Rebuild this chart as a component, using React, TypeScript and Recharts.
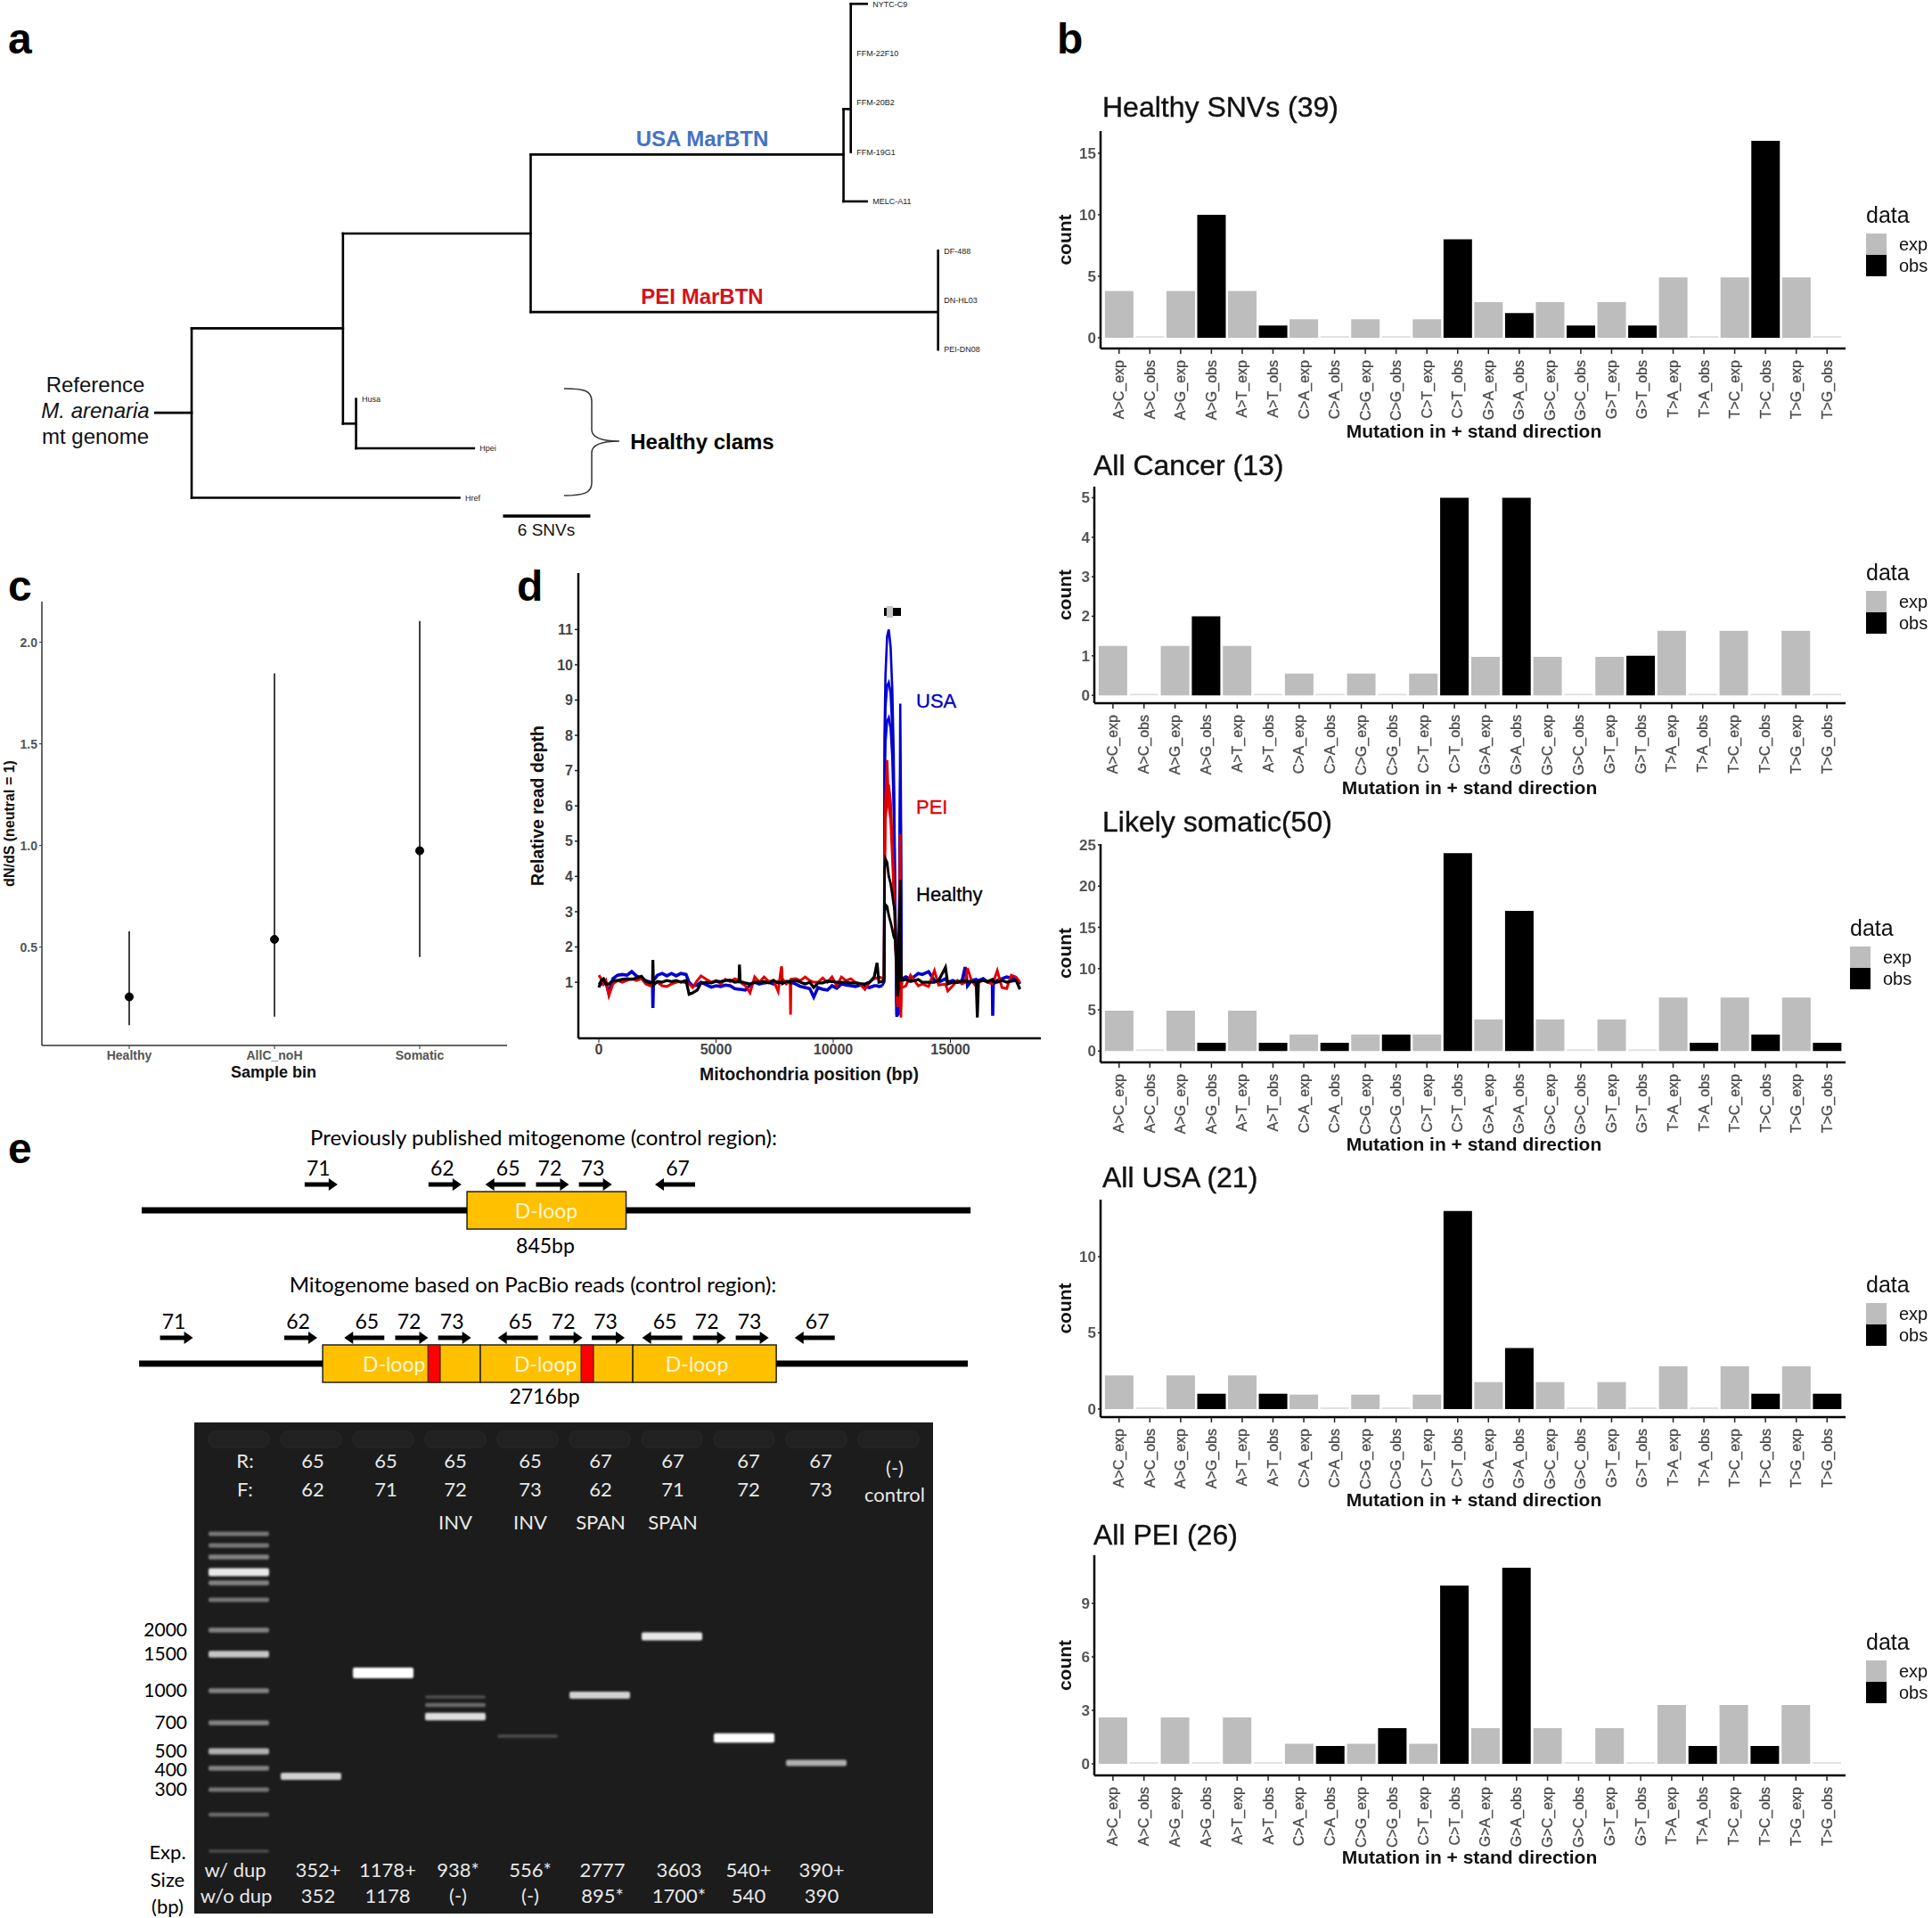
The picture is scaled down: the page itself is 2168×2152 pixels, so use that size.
import React from 'react';
import {
  Bar, BarChart, CartesianGrid, Cell, ComposedChart, ErrorBar, Legend, LabelList, Line, LineChart,
  ReferenceArea, Scatter, XAxis, YAxis,
} from 'recharts';

// ---------- panel a: tree, x in SNVs from the root, y in tip rows ----------
const treeBranches = [
  [-2.5, 8.28, 0, 8.28], [0, 6.57, 0, 10], [0, 6.57, 10.4, 6.57], [0, 10, 18.4, 10],
  [10.4, 4.65, 10.4, 8.5], [10.4, 4.65, 23.3, 4.65], [10.4, 8.5, 11.3, 8.5],
  [11.3, 8, 11.3, 9], [11.3, 9, 19.4, 9],
  [23.3, 3.05, 23.3, 6.24], [23.3, 3.05, 44.8, 3.05], [23.3, 6.24, 51.3, 6.24],
  [44.8, 2.13, 44.8, 4], [44.8, 2.13, 45.3, 2.13], [44.8, 4, 46.4, 4],
  [45.3, 0, 45.3, 3], [45.3, 0, 46.4, 0], [51.3, 5, 51.3, 7],
];
const treeTips = [
  { name: 'NYTC-C9', x: 46.4, y: 0 }, { name: 'FFM-22F10', x: 45.3, y: 1 }, { name: 'FFM-20B2', x: 45.3, y: 2 },
  { name: 'FFM-19G1', x: 45.3, y: 3 }, { name: 'MELC-A11', x: 46.4, y: 4 }, { name: 'DF-488', x: 51.3, y: 5 },
  { name: 'DN-HL03', x: 51.3, y: 6 }, { name: 'PEI-DN08', x: 51.3, y: 7 }, { name: 'Husa', x: 11.3, y: 8 },
  { name: 'Hpei', x: 19.4, y: 9 }, { name: 'Href', x: 18.4, y: 10 },
];
const scaleBar = [{ x: 21.4, y: 10.37 }, { x: 27.4, y: 10.37 }];

// ---------- panel b: mutation spectra ----------
const substitutions = ['A>C', 'A>G', 'A>T', 'C>A', 'C>G', 'C>T', 'G>A', 'G>C', 'G>T', 'T>A', 'T>C', 'T>G'];
const healthyExp = [3.8, 3.8, 3.8, 1.5, 1.5, 1.5, 2.9, 2.9, 2.9, 4.9, 4.9, 4.9];
const healthyObs = [0, 10, 1, 0, 0, 8, 2, 1, 1, 0, 16, 0];
const cancerExp = [1.25, 1.25, 1.25, 0.55, 0.55, 0.55, 0.97, 0.97, 0.97, 1.63, 1.63, 1.63];
const cancerObs = [0, 2, 0, 0, 0, 5, 5, 0, 1, 0, 0, 0];
const somaticExp = [4.9, 4.9, 4.9, 2, 2, 2, 3.85, 3.85, 3.85, 6.5, 6.5, 6.5];
const somaticObs = [0, 1, 1, 1, 2, 24, 17, 0, 0, 1, 2, 1];
const usaExp = [2.2, 2.2, 2.2, 0.95, 0.95, 0.95, 1.77, 1.77, 1.77, 2.8, 2.8, 2.8];
const usaObs = [0, 1, 1, 0, 0, 13, 4, 0, 0, 0, 1, 1];
const peiExp = [2.6, 2.6, 2.6, 1.13, 1.13, 1.13, 2, 2, 2, 3.3, 3.3, 3.3];
const peiObs = [0, 0, 0, 1, 2, 10, 11, 0, 0, 1, 1, 0];

const spectrumRows = (exp: number[], obs: number[]) =>
  substitutions.flatMap((s, i) => [
    { name: `${s}_exp`, kind: 'exp', value: exp[i] },
    { name: `${s}_obs`, kind: 'obs', value: obs[i] },
  ]);

const spectra = [
  { title: 'Healthy SNVs (39)', exp: healthyExp, obs: healthyObs, top: 147, bottom: 391, axisX: 1235, domain: [-0.87, 16.8], ticks: [0, 5, 10, 15], titleX: 1237, titleY: 120, labelX: 1654, labelY: 483, legendX: 2094, swatchTop: 262 },
  { title: 'All Cancer (13)', exp: cancerExp, obs: cancerObs, top: 546, bottom: 789, axisX: 1228, domain: [-0.2, 5.28], ticks: [0, 1, 2, 3, 4, 5], titleX: 1227, titleY: 522, labelX: 1649, labelY: 883, legendX: 2094, swatchTop: 663 },
  { title: 'Likely somatic(50)', exp: somaticExp, obs: somaticObs, top: 947, bottom: 1192, axisX: 1235, domain: [-1.37, 25.1], ticks: [0, 5, 10, 15, 20, 25], titleX: 1237, titleY: 922, labelX: 1654, labelY: 1283, legendX: 2076, swatchTop: 1062 },
  { title: 'All USA (21)', exp: usaExp, obs: usaObs, top: 1346, bottom: 1590, axisX: 1235, domain: [-0.53, 13.74], ticks: [0, 5, 10], titleX: 1237, titleY: 1321, labelX: 1654, labelY: 1682, legendX: 2094, swatchTop: 1462 },
  { title: 'All PEI (26)', exp: peiExp, obs: peiObs, top: 1745, bottom: 1992, axisX: 1228, domain: [-0.65, 11.7], ticks: [0, 3, 6, 9], titleX: 1227, titleY: 1722, labelX: 1649, labelY: 2083, legendX: 2094, swatchTop: 1863 },
];

// ---------- panel c: dN/dS ----------
const sampleBins = ['Healthy', 'AllC_noH', 'Somatic'];
const dnds = [0.255, 0.538, 0.974];
const dndsLow = [0.116, 0.157, 0.451];
const dndsHigh = [0.577, 1.847, 2.105];
const dndsRows = sampleBins.map((bin, i) => ({ bin, dnds: dnds[i], ci: [dnds[i] - dndsLow[i], dndsHigh[i] - dnds[i]] }));

// ---------- panel d: read depth ----------
const depthPositions = [
  0, 100, 200, 300, 430, 600, 800, 1000, 1200, 1400, 1600, 1820, 2000, 2200, 2290, 2306, 2330, 2500, 2700, 2900,
  3100, 3300, 3500, 3720, 3850, 4000, 4200, 4360, 4600, 4800, 5000, 5200, 5400, 5600, 5800, 5980, 6000, 6030, 6250, 6450,
  6650, 6850, 7050, 7250, 7450, 7650, 7780, 7800, 7830, 8000, 8160, 8180, 8200, 8400, 8600, 8800, 9000, 9170, 9350, 9550,
  9750, 9950, 10150, 10350, 10550, 10750, 10950, 11150, 11350, 11550, 11750, 11870, 11950, 12100, 12500,
  12950, 13100, 13300, 13630, 13800, 14070, 14320, 14500, 14790, 14890, 15100, 15300, 15500, 15630, 15730, 15900, 16100, 16150, 16200, 16400,
  16600, 16790, 16806, 16830, 17000, 17200, 17400, 17600, 17800, 17970,
];
const usaBaseline = [
  1.0, 0.95, 1.05, 1.0, 0.68, 1.1, 1.2, 1.22, 1.2, 1.3, 1.18, 1.1, 1.05, 1.0, 0.95, 0.27, 1.05, 1.2, 1.25, 1.18,
  1.25, 1.18, 1.25, 1.22, 1.0, 0.9, 0.92, 1.0, 0.92, 0.86, 0.9, 0.88, 0.92, 0.9, 0.82, 0.8, 0.8, 0.8, 0.78, 0.92,
  1.0, 0.95, 0.98, 1.0, 0.95, 1.02, 1.0, 1.0, 1.0, 1.02, 1.0, 1.0, 1.0, 0.95, 0.88, 0.85, 0.82, 0.58, 0.85, 0.8,
  0.78, 0.9, 0.83, 0.95, 0.92, 0.9, 0.88, 0.92, 0.88, 0.85, 0.9, 0.9, 0.88, 0.9, null,
  1.1, 1.15, 1.08, 1.25, 1.22, 1.3, 1.05, 1.0, 1.1, 1.0, 1.05, 1.0, 1.05, 1.43, 0.9, 1.05, 1.08, 1.05, 1.05, 1.1,
  1.0, 1.0, 0.05, 0.95, 1.05, 1.1, 1.15, 1.12, 1.1, 0.95,
];
const peiBaseline = [
  1.2, 1.1, 0.95, 1.05, 0.62, 0.95, 1.05, 1.0, 1.05, 1.1, 1.05, 1.1, 0.95, 0.9, 1.0, 1.0, 0.98, 1.0, 0.9, 0.88,
  0.95, 1.0, 1.02, 0.98, 0.95, 0.85, 1.05, 1.18, 1.08, 1.0, 1.05, 0.95, 1.08, 1.02, 1.1, 1.05, 1.0, 1.0, 0.9, 0.7,
  1.15, 1.0, 1.15, 1.02, 1.05, 0.74, 1.4, 1.45, 1.1, 0.95, 1.05, 0.08, 1.08, 1.1, 1.05, 1.15, 1.05, 1.0, 1.0, 1.12,
  1.0, 1.15, 0.9, 1.15, 1.05, 1.1, 1.0, 0.95, 0.8, 1.0, 1.1, 1.12, 1.15, 1.12, null,
  0.85, 0.9, 1.2, 0.9, 0.95, 0.88, 1.33, 0.92, 0.95, 0.75, 0.9, 1.05, 0.95, 1.0, 1.4, 1.05, 0.88, 0.9, 1.0, 1.05,
  1.0, 0.95, 1.0, 1.0, 1.33, 0.85, 0.82, 1.2, 1.15, 1.0,
];
const healthyBaseline = [
  0.85, 1.05, 1.1, 0.95, 0.95, 1.05, 1.05, 1.08, 1.1, 1.08, 1.12, 1.17, 1.02, 0.98, 1.0, 1.63, 0.92, 1.02, 1.0, 1.05,
  1.02, 1.05, 1.0, 1.05, 0.66, 0.7, 0.78, 0.98, 1.0, 0.98, 1.03, 1.02, 1.05, 1.06, 1.0, 1.02, 1.5, 1.02, 0.98, 0.95,
  1.0, 1.0, 1.02, 0.98, 1.05, 0.98, 1.0, 1.02, 0.96, 1.02, 1.02, 1.0, 1.03, 1.05, 1.0, 0.95, 1.0, 0.85, 0.98, 0.98,
  1.03, 1.02, 1.0, 1.0, 1.0, 0.98, 0.98, 0.96, 0.95, 1.0, 1.15, 1.55, 1.0, 1.02, null,
  1.05, 1.08, 1.02, 1.08, 1.0, 1.0, 1.0, 1.05, 1.42, 0.95, 1.0, 1.0, 1.03, 1.03, 1.02, 1.02, 1.0, 0.0, 1.03, 1.05,
  1.02, 1.08, 1.05, 1.02, 1.0, 1.05, 1.0, 1.03, 1.05, 0.8,
];
const spikePositions = [12100, 12170, 12190, 12230, 12300, 12370, 12450, 12520, 12580, 12640, 12700, 12740, 12790, 12830, 12860, 12890, 12916, 12950];
const usaSpikeA = [1.0, 1.1, 8.0, 9.7, 10.8, 11.0, 10.5, 9.3, 7.5, 4.0, 0.05, 0.05, 0.1, 4.0, 8.9, 6.0, 1.1, 1.1];
const usaSpikeB = [0.95, 1.0, 7.2, 8.8, 9.4, 9.5, 9.2, 8.2, 6.6, 3.5, 0.1, 0.1, 0.1, 5.0, 6.8, 5.0, 1.1, 1.05];
const usaSpikeC = [0.9, 1.0, 6.2, 7.8, 8.4, 8.5, 8.2, 7.4, 5.9, 3.0, 0.4, 0.2, 0.6, 4.2, 5.2, 3.4, 1.05, 1.05];
const peiSpikeA = [1.05, 1.1, 4.0, 6.2, 7.3, 6.0, 5.6, 4.6, 3.6, 2.5, 1.4, 0.3, 0.4, 3.2, 5.2, 0.0, 0.9, 1.0];
const peiSpikeB = [1.0, 1.05, 3.8, 5.6, 6.2, 6.6, 6.1, 5.0, 3.9, 2.6, 1.3, 0.4, 0.5, 2.8, 4.0, 0.3, 1.0, 1.0];
const healthySpikeA = [1.05, 1.1, 4.2, 4.5, 4.4, 4.0, 3.8, 3.5, 3.2, 3.0, 1.4, 0.6, 0.8, 2.9, 3.9, 1.6, 1.05, 1.1];
const healthySpikeB = [1.0, 1.05, 2.9, 3.2, 3.15, 2.9, 2.7, 2.5, 2.3, 2.2, 1.4, 0.9, 2.2, 2.5, 2.8, 1.4, 1.05, 1.05];
const dloopBlackBar = [12167, 12890];
const dloopGreyBar = [12280, 12550];

const depthRows = (values: (number | null)[]) => depthPositions.map((x, i) => ({ x, y: values[i] }));
const spikeRows = (values: number[]) => spikePositions.map((x, i) => ({ x, y: values[i] }));
const barRows = (xs: number[]) => xs.map((x) => ({ x, y: 11.5 }));

// ---------- panel e: control region maps, x in bp from the first D-loop ----------
const publishedPrimers = [
  { name: '71', x: -775, dir: 1 }, { name: '62', x: -117, dir: 1 }, { name: '65', x: 204, dir: -1 },
  { name: '72', x: 454, dir: 1 }, { name: '73', x: 682, dir: 1 }, { name: '67', x: 1105, dir: -1 },
];
const pacbioPrimers = [
  { name: '71', x: -875, dir: 1 }, { name: '62', x: -131, dir: 1 }, { name: '65', x: 249, dir: -1 },
  { name: '72', x: 533, dir: 1 }, { name: '73', x: 790, dir: 1 }, { name: '65', x: 1169, dir: -1 },
  { name: '72', x: 1457, dir: 1 }, { name: '73', x: 1710, dir: 1 }, { name: '65', x: 2033, dir: -1 },
  { name: '72', x: 2316, dir: 1 }, { name: '73', x: 2572, dir: 1 }, { name: '67', x: 2946, dir: -1 },
];
const publishedBackbone = [[-1728, 0], [845, 2675]];
const pacbioBackbone = [[-1099, 0], [2716, 3863]];
const publishedBoxes = [[0, 845]];
const pacbioBoxes = [[0, 944], [944, 1857], [1857, 2716]];
const pacbioRepeats = [[630, 704], [1547, 1622]];
const publishedLoopLabels = [421];
const pacbioLoopLabels = [427, 1334, 2241];

// ---------- panel e: gel, lane number against migration ----------
const ladderMigration = [125, 138, 151, 168, 180, 199, 233, 260, 301, 337, 369, 388, 412, 440, 481];
const ladderIntensity = [0.3, 0.3, 0.35, 0.8, 0.35, 0.3, 0.35, 0.65, 0.35, 0.35, 0.55, 0.35, 0.3, 0.25, 0.12];
const sampleLanes = [1, 2, 3, 3, 3, 4, 5, 6, 7, 8];
const sampleMigration = [397, 281, 330, 317, 308, 352, 306, 240, 354, 382];
const sampleIntensity = [0.7, 1.2, 0.75, 0.25, 0.12, 0.12, 0.7, 0.8, 1.0, 0.55];
const wellLanes = [0, 1, 2, 3, 4, 5, 6, 7, 8, 9];
const ladderTicks = [233, 260, 301, 337, 369, 390, 412];
const ladderSizes = ['2000', '1500', '1000', '700', '500', '400', '300'];
const gelReverse = ['65', '65', '65', '65', '67', '67', '67', '67'];
const gelForward = ['62', '71', '72', '73', '62', '71', '72', '73'];
const gelType = ['', '', 'INV', 'INV', 'SPAN', 'SPAN', '', ''];
const sizeWithDup = ['352+', '1178+', '938*', '556*', '2777', '3603', '540+', '390+'];
const sizeNoDup = ['352', '1178', '(-)', '(-)', '895*', '1700*', '540', '390'];
const gelRows = [
  ...ladderMigration.map((y, i) => ({ x: 0, y, intensity: ladderIntensity[i] })),
  ...sampleLanes.map((x, i) => ({ x, y: sampleMigration[i], intensity: sampleIntensity[i] })),
];

const SANS = '"Liberation Sans", Arial, sans-serif';
const LATO = 'Lato, sans-serif';
const GEL_TOP_X = [351, 433, 511, 595, 674, 755, 840, 921];
const GEL_BOTTOM_X = [357, 435, 514, 595, 676, 762, 840, 922];
const SPECTRUM_HEAD = 14;

const MutationTick = ({ x, y, payload }: any) => (
  <text x={x} y={y + 5} transform={`rotate(-90 ${x} ${y + 5})`} textAnchor="end" dominantBaseline="central"
    fontFamily={SANS} fontSize={16} fill="#4a4a4a" stroke="#4a4a4a" strokeWidth={0.3}>{payload.value}</text>
);

const SpectrumLegend = () => (
  <div style={{ fontFamily: SANS, color: '#111' }}>
    <div style={{ height: 30, lineHeight: '30px', marginBottom: 6, fontSize: 25 }}>data</div>
    {[['exp', '#bdbdbd'], ['obs', '#000']].map(([label, color]) => (
      <div key={label} style={{ display: 'flex', alignItems: 'center', height: 24 }}>
        <span style={{ width: 23, height: 24, background: color, marginRight: 14 }} />
        <span style={{ fontSize: 20 }}>{label}</span>
      </div>
    ))}
  </div>
);

const Spectrum = ({ s }: any) => {
  const rows = spectrumRows(s.exp, s.obs);
  return (
    <div style={{ position: 'absolute', left: 1170, top: s.top - SPECTRUM_HEAD, filter: 'blur(0.6px)' }}>
      <BarChart width={998} height={s.bottom - s.top + 90 + SPECTRUM_HEAD} data={rows} barCategoryGap="4%"
        margin={{ top: SPECTRUM_HEAD, right: 97, bottom: 0, left: 0 }}>
        <XAxis dataKey="name" interval={0} height={90} tick={<MutationTick />} tickSize={6}
          padding={{ left: 3.5, right: 3.5 }} axisLine={{ stroke: '#000', strokeWidth: 2.5 }} tickLine={{ stroke: '#222', strokeWidth: 1.5 }} />
        <YAxis width={s.axisX - 1170} type="number" domain={s.domain} ticks={s.ticks} interval={0} allowDataOverflow tickSize={3}
          tick={{ fontFamily: SANS, fontSize: 17, fontWeight: 700, fill: '#555' }}
          axisLine={{ stroke: '#000', strokeWidth: 2.5 }} tickLine={{ stroke: '#222', strokeWidth: 1.5 }} />
        <Legend content={<SpectrumLegend />} layout="vertical" align="center" verticalAlign="middle" width={80}
          wrapperStyle={{ left: s.legendX - 1170, top: s.swatchTop - 36 - s.top + SPECTRUM_HEAD }} />
        <Bar dataKey="value" minPointSize={2} isAnimationActive={false}>
          {rows.map((r) => (
            <Cell key={r.name} fill={r.value === 0 ? '#e2e2e2' : r.kind === 'exp' ? '#bdbdbd' : '#000'} />
          ))}
        </Bar>
      </BarChart>
    </div>
  );
};

const PrimerArrow = ({ cx, cy, payload }: any) => {
  const len = payload.dir > 0 ? 37 : 45;
  const tip = cx + (payload.dir * len) / 2;
  const tail = cx - (payload.dir * len) / 2;
  const neck = tip - payload.dir * 10;
  return (
    <g>
      <path d={`M${tail} ${cy - 2.5}L${neck} ${cy - 2.5}L${neck} ${cy - 7}L${tip} ${cy}L${neck} ${cy + 7}L${neck} ${cy + 2.5}L${tail} ${cy + 2.5}Z`} fill="#000" />
      <text x={cx - payload.dir * 3} y={cy - 19} textAnchor="middle" dominantBaseline="central" fontFamily={LATO} fontSize={23} fill="#000">{payload.name}</text>
    </g>
  );
};

const LoopLabel = ({ cx, cy }: any) => (
  <text x={cx} y={cy} textAnchor="middle" dominantBaseline="central" fontFamily={LATO} fontSize={23} fill="#fff6d5">D-loop</text>
);

const RegionMap = ({ top, domain, backbone, boxes, repeats, primers, labels }: any) => (
  <div style={{ position: 'absolute', left: 140, top }}>
    <ComposedChart width={980} height={130} margin={{ top: 0, right: 0, bottom: 0, left: 0 }}>
      <XAxis type="number" dataKey="x" domain={domain} hide />
      <YAxis type="number" dataKey="y" domain={[-2.952, 3.238]} hide />
      {backbone.map(([x1, x2]: number[]) => (
        <Line key={x1} data={[{ x: x1, y: 0 }, { x: x2, y: 0 }]} dataKey="y" stroke="#000" strokeWidth={7} dot={false} activeDot={false} isAnimationActive={false} />
      ))}
      {boxes.map(([x1, x2]: number[]) => (
        <ReferenceArea key={x1} x1={x1} x2={x2} y1={-1} y2={1} fill="#ffc000" fillOpacity={1} stroke="#222" strokeWidth={1.5} />
      ))}
      {repeats.map(([x1, x2]: number[]) => (
        <ReferenceArea key={x1} x1={x1} x2={x2} y1={-1} y2={1} fill="#ff0000" fillOpacity={1} stroke="#222" strokeWidth={1} />
      ))}
      <Scatter data={labels.map((x: number) => ({ x, y: 0 }))} shape={<LoopLabel />} isAnimationActive={false} />
      <Scatter data={primers.map((p: any) => ({ ...p, y: 1.38 }))} shape={<PrimerArrow />} isAnimationActive={false} />
    </ComposedChart>
  </div>
);

const GelBand = ({ cx, cy, payload }: any) => {
  const h = 2.5 + 8 * payload.intensity;
  return (
    <rect x={cx - 34} y={cy - h / 2} width={68} height={h} rx={2} fill="#fff" opacity={Math.min(1, 0.1 + payload.intensity)}
      style={{ filter: 'blur(1.2px)' }} />
  );
};
const GelWell = ({ cx, cy }: any) => (
  <rect x={cx - 34} y={cy - 9} width={68} height={18} rx={8} fill="#212121" stroke="#292929" />
);

const App = () => (
  <div style={{ position: 'absolute', left: 0, top: 0, width: 2168, height: 2152, background: '#fff', overflow: 'hidden' }}>
    {/* a */}
    <div style={{ position: 'absolute', left: 0, top: 0 }}>
      <ComposedChart width={1150} height={600} margin={{ top: 0, right: 0, bottom: 0, left: 0 }}>
        <XAxis type="number" dataKey="x" domain={[-13.17, 57.26]} hide />
        <YAxis type="number" dataKey="y" domain={[-0.078, 10.75]} reversed hide />
        {treeBranches.map(([x1, y1, x2, y2]) => (
          <Line key={`${x1}-${y1}-${x2}-${y2}`} data={[{ x: x1, y: y1 }, { x: x2, y: y2 }]} dataKey="y" stroke="#000" strokeWidth={2.6}
            strokeLinecap="square" dot={false} activeDot={false} isAnimationActive={false} />
        ))}
        <Line data={scaleBar} dataKey="y" stroke="#000" strokeWidth={3.5} dot={false} activeDot={false} isAnimationActive={false} />
        <Scatter data={treeTips} fill="none" isAnimationActive={false}>
          <LabelList dataKey="name" position="right" offset={2} style={{ fontFamily: SANS, fontSize: 9, fill: '#222' }} />
        </Scatter>
      </ComposedChart>
    </div>

    {spectra.map((s) => <Spectrum key={s.title} s={s} />)}

    {/* c */}
    <div style={{ position: 'absolute', left: 0, top: 675 }}>
      <ComposedChart width={600} height={558} data={dndsRows} margin={{ top: 0, right: 31, bottom: 0, left: 0 }}>
        <XAxis dataKey="bin" scale="point" height={60} padding={{ left: 98, right: 98 }} tickSize={4}
          tick={{ fontFamily: SANS, fontSize: 14, fill: '#555', fontWeight: 700 }} axisLine={{ stroke: '#333', strokeWidth: 1.5 }} tickLine={{ stroke: '#333' }} />
        <YAxis width={47} type="number" domain={[0.016, 2.2]} ticks={[0.5, 1, 1.5, 2]} allowDataOverflow tickSize={3} tickFormatter={(v: number) => v.toFixed(1)}
          tick={{ fontFamily: SANS, fontSize: 14, fill: '#555', fontWeight: 700 }} axisLine={{ stroke: '#333', strokeWidth: 1.5 }} tickLine={{ stroke: '#333' }} />
        <Line dataKey="dnds" stroke="none" dot={{ r: 4.5, fill: '#000', stroke: '#000' }} activeDot={false} isAnimationActive={false}>
          <ErrorBar dataKey="ci" direction="y" width={0} stroke="#000" strokeWidth={1.5} isAnimationActive={false} />
        </Line>
      </ComposedChart>
    </div>

    {/* d */}
    <div style={{ position: 'absolute', left: 590, top: 643 }}>
      <LineChart width={600} height={582} margin={{ top: 0, right: 22, bottom: 0, left: 0 }}>
        <XAxis type="number" dataKey="x" domain={[-875, 18860]} ticks={[0, 5000, 10000, 15000]} height={60} tickSize={5} allowDataOverflow
          tick={{ fontFamily: SANS, fontSize: 16, fill: '#444', fontWeight: 700 }} axisLine={{ stroke: '#000', strokeWidth: 2.5 }} tickLine={{ stroke: '#222' }} />
        <YAxis width={59} type="number" domain={[-0.59, 12.6]} ticks={[1, 2, 3, 4, 5, 6, 7, 8, 9, 10, 11]} interval={0} allowDataOverflow tickSize={4}
          tick={{ fontFamily: SANS, fontSize: 16, fill: '#444', fontWeight: 700 }} axisLine={{ stroke: '#000', strokeWidth: 2.5 }} tickLine={{ stroke: '#222', strokeWidth: 1.5 }} />
        {[usaSpikeA, usaSpikeB, usaSpikeC].map((v, i) => (
          <Line key={`usa${i}`} data={spikeRows(v)} dataKey="y" stroke="#0000d0" strokeWidth={2.6} dot={false} activeDot={false} isAnimationActive={false} />
        ))}
        <Line data={depthRows(usaBaseline)} dataKey="y" stroke="#0000d0" strokeWidth={3.6} dot={false} activeDot={false} isAnimationActive={false} />
        <Line data={depthRows(peiBaseline)} dataKey="y" stroke="#e00000" strokeWidth={3} dot={false} activeDot={false} isAnimationActive={false} />
        {[peiSpikeA, peiSpikeB].map((v, i) => (
          <Line key={`pei${i}`} data={spikeRows(v)} dataKey="y" stroke="#e00000" strokeWidth={2.8} dot={false} activeDot={false} isAnimationActive={false} />
        ))}
        {[healthySpikeA, healthySpikeB].map((v, i) => (
          <Line key={`healthy${i}`} data={spikeRows(v)} dataKey="y" stroke="#000" strokeWidth={2.8} dot={false} activeDot={false} isAnimationActive={false} />
        ))}
        <Line data={depthRows(healthyBaseline)} dataKey="y" stroke="#000" strokeWidth={3.2} dot={false} activeDot={false} isAnimationActive={false} />
        <Line data={barRows(dloopBlackBar)} dataKey="y" stroke="#000" strokeWidth={9} dot={false} activeDot={false} isAnimationActive={false} />
        <Line data={barRows(dloopGreyBar)} dataKey="y" stroke="#c4c4c4" strokeWidth={13} dot={false} activeDot={false} isAnimationActive={false} />
      </LineChart>
    </div>

    {/* e */}
    <RegionMap top={1290} domain={[-1818, 2821]} backbone={publishedBackbone} boxes={publishedBoxes} repeats={[]} primers={publishedPrimers} labels={publishedLoopLabels} />
    <RegionMap top={1462} domain={[-1185, 4044]} backbone={pacbioBackbone} boxes={pacbioBoxes} repeats={pacbioRepeats} primers={pacbioPrimers} labels={pacbioLoopLabels} />

    <div style={{ position: 'absolute', left: 150, top: 1596 }}>
      <ComposedChart width={897} height={551} margin={{ top: 0, right: 0, bottom: 0, left: 0 }}>
        <CartesianGrid horizontal={false} vertical={false} fill="#1c1c1c" />
        <XAxis type="number" dataKey="x" domain={[-0.617, 9.617]} hide />
        <YAxis width={68} type="number" dataKey="y" domain={[0, 551]} reversed ticks={ladderTicks} interval={0} axisLine={false} tickLine={false} tickMargin={2}
          tickFormatter={(v: number) => ladderSizes[ladderTicks.indexOf(v)]} tick={{ fontFamily: LATO, fontSize: 21, fill: '#000' }} />
        <Scatter data={wellLanes.map((x) => ({ x, y: 19 }))} shape={<GelWell />} isAnimationActive={false} />
        <Scatter data={gelRows} shape={<GelBand />} isAnimationActive={false} />
      </ComposedChart>
    </div>

    {/* text laid over the panels */}
    <svg width={2168} height={2152} style={{ position: 'absolute', left: 0, top: 0, pointerEvents: 'none' }}>
      <g fontFamily={SANS} fontWeight={700} fontSize={48} fill="#000">
        <text x={9} y={60}>a</text>
        <text x={1186} y={60}>b</text>
        <text x={9} y={674}>c</text>
        <text x={580} y={674}>d</text>
        <text x={9} y={1305}>e</text>
      </g>

      <g fontFamily={SANS} fontSize={24} textAnchor="middle" dominantBaseline="central">
        <text x={788} y={155} fontWeight={700} fill="#4472c4">USA MarBTN</text>
        <text x={788} y={332} fontWeight={700} fill="#d5121c">PEI MarBTN</text>
        <text x={788} y={495} fontWeight={700} fill="#000">Healthy clams</text>
        <text x={107} y={431} fill="#111">Reference</text>
        <text x={107} y={460} fontStyle="italic" fill="#111">M. arenaria</text>
        <text x={107} y={489} fill="#111">mt genome</text>
        <text x={613} y={594} fontSize={19} fill="#111">6 SNVs</text>
      </g>
      <path d="M633 436C655 436 664 438 664 450L664 482C664 490 672 495 695 495C672 495 664 500 664 508L664 542C664 553 655 556 633 556" fill="none" stroke="#333" strokeWidth={1.5} />

      <g style={{ filter: 'blur(0.6px)' }} fontFamily={SANS} fill="#111">
        {spectra.map((s) => (
          <g key={s.title}>
            <text x={s.titleX} y={s.titleY} fontSize={32} stroke="#111" strokeWidth={0.4} dominantBaseline="central">{s.title}</text>
            <text x={s.labelX} y={s.labelY} fontSize={21} fontWeight={700} textAnchor="middle" dominantBaseline="central">Mutation in + stand direction</text>
            <text transform={`translate(1194 ${(s.top + s.bottom) / 2}) rotate(-90)`} fontSize={21} fontWeight={700} textAnchor="middle" dominantBaseline="central">count</text>
          </g>
        ))}
      </g>

      <g fontFamily={SANS} fontWeight={700} fill="#111" textAnchor="middle" dominantBaseline="central">
        <text x={307} y={1203} fontSize={18}>Sample bin</text>
        <text transform="translate(10 924) rotate(-90)" fontSize={16}>dN/dS (neutral = 1)</text>
        <text x={908} y={1205} fontSize={19.5}>Mitochondria position (bp)</text>
        <text transform="translate(603 904) rotate(-90)" fontSize={19.5}>Relative read depth</text>
      </g>
      <g fontFamily={SANS} fontSize={22} stroke="currentColor" strokeWidth={0.3} dominantBaseline="central">
        <text x={1028} y={786} fill="#0000c0" color="#0000c0">USA</text>
        <text x={1028} y={905} fill="#e00000" color="#e00000">PEI</text>
        <text x={1028} y={1003} fill="#000" color="#000">Healthy</text>
      </g>

      <g fontFamily={LATO} fontSize={24} fill="#000" textAnchor="middle" dominantBaseline="central">
        <text x={610} y={1275}>Previously published mitogenome (control region):</text>
        <text x={612} y={1397} fontSize={23}>845bp</text>
        <text x={598} y={1440}>Mitogenome based on PacBio reads (control region):</text>
        <text x={611} y={1566} fontSize={23}>2716bp</text>
        <text x={188} y={2077} fontSize={22}>Exp.</text>
        <text x={188} y={2108} fontSize={22}>Size</text>
        <text x={188} y={2138} fontSize={22}>(bp)</text>
      </g>

      <g fontFamily={LATO} fontSize={22} fill="#e8e8e8" textAnchor="middle" dominantBaseline="central">
        <text x={275} y={1638}>R:</text>
        <text x={275} y={1670}>F:</text>
        <text x={264} y={2097}>w/ dup</text>
        <text x={265} y={2126}>w/o dup</text>
        <text x={1004} y={1646}>(-)</text>
        <text x={1004} y={1676}>control</text>
        {GEL_TOP_X.map((x, i) => (
          <g key={x}>
            <text x={x} y={1638}>{gelReverse[i]}</text>
            <text x={x} y={1670}>{gelForward[i]}</text>
            {gelType[i] && <text x={x} y={1707}>{gelType[i]}</text>}
          </g>
        ))}
        {GEL_BOTTOM_X.map((x, i) => (
          <g key={x}>
            <text x={x} y={2097}>{sizeWithDup[i]}</text>
            <text x={x} y={2126}>{sizeNoDup[i]}</text>
          </g>
        ))}
      </g>
    </svg>
  </div>
);

export default App;
